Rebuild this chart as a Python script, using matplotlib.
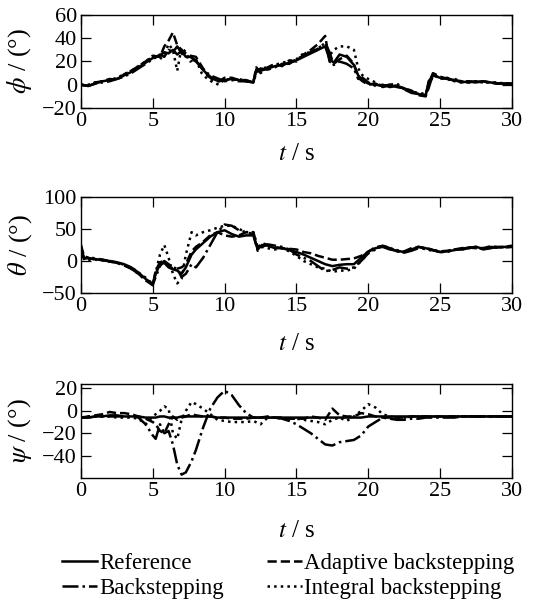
import numpy as np
import matplotlib
matplotlib.use("Agg")
import matplotlib.pyplot as plt

plt.rcParams['font.family'] = ['Liberation Serif', 'DejaVu Serif']
plt.rcParams['mathtext.fontset'] = 'stix'
plt.rcParams['font.size'] = 16

# ---- roll angle phi (deg) ----
t_phi = [0, 0.5, 1, 1.5, 2, 2.5, 3, 3.5, 4, 4.5, 5,
         5.5, 5.8, 6.1, 6.4, 6.7, 7.0, 7.3, 7.6,
         8.0, 8.4, 8.8, 9.2, 9.6,
         10, 10.5, 11, 11.5, 12,
         12.2, 12.5,
         13, 13.5, 14, 14.5, 15, 15.5, 16, 16.5, 17,
         17.3, 17.6,
         18, 18.5, 19,
         19.3, 19.6,
         20, 20.5, 21, 21.5, 22, 22.5, 23, 23.5, 24,
         24.2, 24.5,
         25, 25.5, 26, 26.5, 27, 27.5, 28, 28.5, 29, 29.5, 30]
phi_ref = [0, -1, 1, 3, 4, 5, 8, 11, 15, 19, 23,
           25, 28, 27, 30, 26, 29, 24, 24,
           21, 14, 9, 5, 3,
           4, 5, 4, 3, 2,
           13, 12,
           14, 16, 17, 19, 21, 24, 27, 30, 33,
           22, 19,
           26, 24, 17,
           8, 4,
           1, 0, -1, 0, -2, -3, -6, -8, -9,
           3, 8,
           6, 5, 4, 2, 3, 2, 3, 2, 1, 1, 1]
phi_adp = [0, -1, 2, 3, 5, 4, 9, 12, 16, 20, 25,
           24, 33, 38, 45, 34, 30, 27, 25,
           24, 16, 8, 4, 3,
           6, 6, 4, 4, 2,
           15, 10,
           15, 18, 16, 21, 20, 26, 30, 35, 42,
           20, 18,
           22, 25, 18,
           6, 3,
           0, 1, -2, 0, -1, -3, -5, -9, -10,
           1, 10,
           7, 5, 4, 3, 3, 2, 3, 2, 1, 1, 1]
phi_bs = [0, -1, 1, 2, 3, 5, 7, 10, 14, 18, 22,
          26, 24, 30, 28, 33, 27, 24, 23,
          20, 15, 10, 7, 5,
          3, 4, 3, 3, 2,
          10, 14,
          13, 15, 18, 18, 22, 25, 28, 31, 36,
          28, 17,
          20, 18, 14,
          5, 6,
          2, -1, 0, -2, -1, -4, -7, -8, -9,
          -3, 9,
          5, 6, 3, 2, 2, 3, 2, 2, 1, 1, 1]
phi_int = [0, 0, 2, 3, 4, 6, 9, 12, 16, 20, 24,
           22, 26, 35, 30, 12, 32, 28, 20,
           22, 10, 5, 2, 0,
           5, 4, 5, 3, 3,
           12, 14,
           15, 17, 19, 20, 22, 27, 28, 32, 34,
           25, 30,
           33, 33, 30,
           14, 8,
           5, 2, -2, 0, 1, -4, -6, -7, -8,
           0, 7,
           7, 4, 5, 3, 2, 3, 2, 2, 2, 1, 1]

# ---- pitch angle theta (deg) ----
t_th = [0, 0.2, 0.5, 1, 1.5, 2, 2.5, 3, 3.5, 4, 4.5, 5,
        5.2, 5.5, 5.8, 6.1, 6.4, 6.7, 7.0, 7.3, 7.7,
        8.0, 8.5, 9, 9.5, 10, 10.5, 11, 11.5, 12,
        12.3, 12.6,
        13, 13.5, 14, 14.5, 15, 15.5, 16, 16.5, 17, 17.5, 18, 18.5,
        19, 19.5, 20, 20.5, 21, 21.5, 22, 22.5, 23, 23.5, 24, 24.5,
        25, 25.5, 26, 26.5, 27, 27.5, 28, 28.5, 29, 29.5, 30]
th_ref = [22, 5, 4, 3, 1, 0, -2, -5, -10, -18, -28, -36,
          -20, -5, -3, -10, -13, -15, -20, -10, 10,
          18, 28, 38, 45, 48, 42, 38, 40, 40,
          18, 25,
          24, 20, 20, 17, 14, 10, 5, 0, -5, -8, -6, -5,
          -5, 5, 15, 20, 22, 18, 16, 14, 18, 22, 20, 17,
          14, 15, 17, 19, 21, 22, 19, 22, 21, 22, 23]
th_adp = [25, 8, 5, 2, 2, 0, -3, -6, -12, -20, -30, -38,
          -15, -2, 0, -8, -12, -12, -10, -5, 15,
          22, 30, 40, 45, 40, 38, 40, 45, 45,
          20, 28,
          25, 22, 20, 19, 18, 14, 12, 8, 5, 2, 2, 3,
          4, 8, 14, 22, 23, 20, 15, 15, 20, 22, 19, 17,
          15, 16, 18, 20, 21, 20, 20, 23, 22, 22, 24]
th_bs = [20, 3, 6, 4, 2, -1, -3, -7, -12, -20, -30, -37,
         -25, -8, 0, -5, -10, -12, -25, -20, -5,
         -10, 5, 25, 45, 57, 55, 48, 45, 42,
         16, 22,
         26, 24, 22, 18, 10, 5, 0, -8, -16, -14, -10, -12,
         -10, 0, 12, 20, 24, 20, 17, 13, 16, 20, 21, 17,
         14, 14, 18, 18, 20, 22, 18, 20, 22, 21, 22]
th_int = [18, 6, 2, 2, 1, -1, -2, -6, -10, -18, -26, -36,
          -18, 10, 25, 5, -20, -35, -28, 10, 45,
          40, 45, 48, 52, 55, 55, 50, 45, 45,
          22, 22,
          20, 18, 20, 15, 8, 0, -5, -10, -12, -17, -15, -15,
          -12, 0, 12, 18, 24, 20, 15, 14, 18, 22, 18, 16,
          15, 15, 18, 18, 20, 22, 20, 20, 21, 22, 22]

# ---- yaw angle psi (deg) ----
t_psi = [0, 0.5, 1, 1.5, 2, 2.5, 3, 3.5, 4, 4.5, 5,
         5.2, 5.5, 5.8, 6.1, 6.4, 6.7, 7.0, 7.3, 7.7,
         8.0, 8.5, 9, 9.5, 10, 10.5, 11, 11.5, 12, 12.5,
         13, 13.5, 14, 14.5, 15, 15.5, 16, 16.5, 17, 17.5,
         18, 18.5, 19, 19.5, 20, 20.5, 21, 21.5, 22, 22.5,
         23, 23.5, 24, 24.5, 25, 25.5, 26, 26.5, 27, 27.5,
         28, 28.5, 29, 29.5, 30]
psi_ref = [-6, -6, -5, -5, -4, -4, -5, -5, -5, -6, -6,
           -6, -5, -5, -6, -6, -6, -5, -5, -5,
           -5, -5, -5, -6, -6, -6, -6, -6, -6, -6,
           -6, -6, -6, -6, -6, -6, -6, -6, -6, -6,
           -6, -6, -6, -6, -5, -5, -5, -5, -5, -5,
           -5, -5, -5, -5, -5, -5, -5, -5, -5, -5,
           -5, -5, -5, -5, -5]
psi_adp = [-6, -5, -4, -3, -1, -2, -2, -3, -5, -7, -10,
           -12, -18, -20, -12, -5, -8, -6, -5, -3,
           -4, -5, -5, -6, -6, -7, -7, -7, -6, -6,
           -5, -6, -6, -7, -7, -7, -5, -6, -8, 2,
           -4, -5, -5, -2, -3, -5, -6, -6, -6, -6,
           -5, -5, -5, -5, -5, -5, -5, -5, -5, -5,
           -5, -5, -5, -5, -5]
psi_bs = [-6, -6, -5, -5, -5, -5, -5, -5, -6, -12, -22,
          -25, -12, -20, -18, -30, -48, -57, -55, -45,
          -35, -15, 2, 12, 18, 14, 5, -2, -6, -6,
          -6, -6, -7, -9, -12, -16, -20, -25, -30, -31,
          -28, -27, -26, -22, -14, -10, -6, -7, -8, -8,
          -7, -7, -6, -6, -6, -6, -6, -5, -5, -5,
          -5, -5, -5, -5, -5]
psi_int = [-6, -5, -5, -5, -5, -6, -6, -6, -7, -12, -5,
           -3, 0, 4, 2, -20, -25, -8, 0, 8,
           6, 2, -3, -8, -9, -10, -10, -10, -9, -12,
           -6, -6, -7, -7, -7, -8, -9, -10, -12, -8,
           -6, -9, -5, 0, 6, 3, -3, -5, -6, -6,
           -5, -5, -5, -5, -5, -5, -5, -5, -5, -5,
           -5, -5, -5, -5, -5]

labels = ['Reference', 'Adaptive backstepping', 'Backstepping', 'Integral backstepping']
styles = ['-', '--', '-.', ':']

panels = [
    (t_phi, [phi_ref, phi_adp, phi_bs, phi_int], r'$\phi$ / (°)', (-20, 60), [-20, 0, 20, 40, 60]),
    (t_th, [th_ref, th_adp, th_bs, th_int], r'$\theta$ / (°)', (-50, 100), [-50, 0, 50, 100]),
    (t_psi, [psi_ref, psi_adp, psi_bs, psi_int], r'$\psi$ / (°)', (-60, 24), [-40, -20, 0, 20]),
]

fig = plt.figure(figsize=(5.49, 6.02), dpi=100)
rects = [[0.1475, 0.8206, 0.785, 0.1545],
         [0.1475, 0.5133, 0.785, 0.1595],
         [0.1475, 0.2060, 0.785, 0.1561]]
xlab_y = [-0.38, -0.42, -0.45]

handles = []
for i, (t, series, ylab, ylim, yticks) in enumerate(panels):
    ax = fig.add_axes(rects[i])
    hs = []
    for s, ls, lab in zip(series, styles, labels):
        assert len(s) == len(t)
        h, = ax.plot(t, s, color='black', linestyle=ls, linewidth=1.8, label=lab)
        hs.append(h)
    handles = hs
    ax.set_xlim(0, 30)
    ax.set_ylim(*ylim)
    ax.set_xticks([0, 5, 10, 15, 20, 25, 30])
    ax.set_yticks(yticks)
    ax.tick_params(direction='in', top=True, right=True, length=7, width=0.9, pad=3)
    for sp in ax.spines.values():
        sp.set_linewidth(1.0)
    ax.set_ylabel(ylab, fontsize=19)
    ax.yaxis.set_label_coords(-0.11, 0.5)
    ax.set_xlabel(r'$t$ / s', fontsize=18)
    ax.xaxis.set_label_coords(0.5, xlab_y[i])

order = [0, 2, 1, 3]
fig.legend([handles[k] for k in order], [labels[k] for k in order],
           loc='center', bbox_to_anchor=(0.525, 0.043), ncol=2, frameon=False,
           handlelength=1.5, handletextpad=0.1, columnspacing=1.9,
           labelspacing=0.15, borderpad=0, fontsize=16.5)

fig.savefig('out.png', dpi=100)
